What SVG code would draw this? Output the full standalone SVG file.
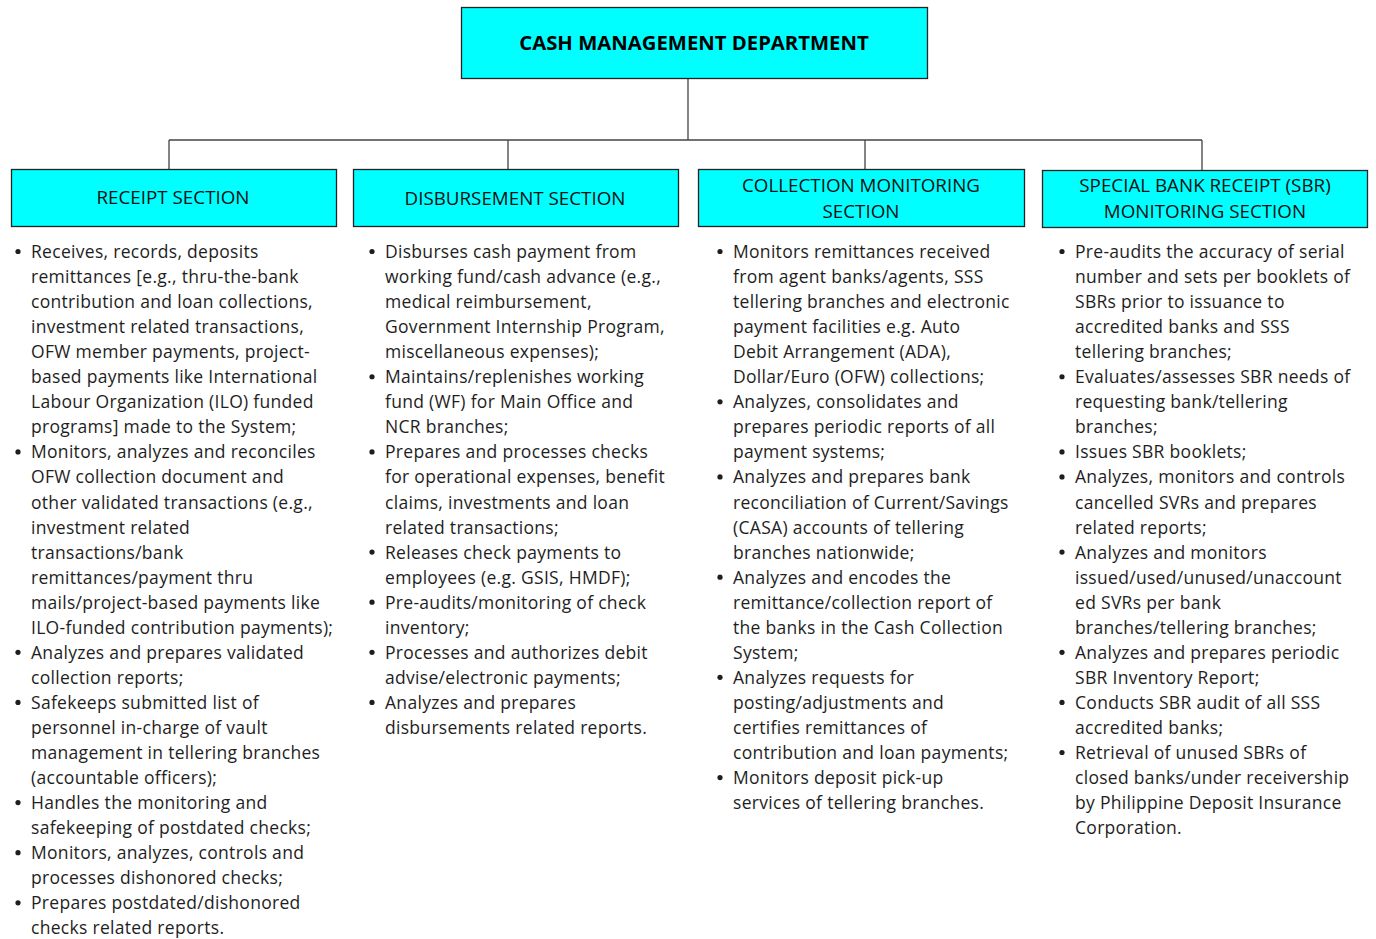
<svg xmlns="http://www.w3.org/2000/svg" width="1376" height="939" viewBox="0 0 1376 939">
<style>
.box{fill:#00FFFF;stroke:#222;stroke-width:1.3}
.ln{stroke:#444;stroke-width:1.3;fill:none}
.t{font-family:"Open Sans","Noto Sans",sans-serif;font-size:17.5px;letter-spacing:0.3px;fill:#1e1e1e}
.b{fill:#1e1e1e}
.h{font-family:"Open Sans","Noto Sans",sans-serif;font-size:18.8px;fill:#111;text-anchor:middle}
.title{font-family:"Open Sans","Noto Sans",sans-serif;font-size:20.3px;font-weight:bold;fill:#000;text-anchor:middle}
</style>
<rect width="1376" height="939" fill="#fff"/>
<g id="connectors">
<path class="ln" d="M688 78V140M169 140H1202M169 140V169M508 140V169M865 140V169M1202 140V170"/>
</g>
<g id="cmd">
<rect class="box" x="461.5" y="7.5" width="466" height="71"/>
<text class="title" x="694" y="50">CASH MANAGEMENT DEPARTMENT</text>
</g>
<g id="receipt">
<rect class="box" x="11.5" y="169.5" width="325" height="57"/>
<text class="h" x="173" y="204">RECEIPT SECTION</text>
</g>
<g id="disbursement">
<rect class="box" x="353.5" y="169.5" width="325" height="57"/>
<text class="h" x="515" y="205">DISBURSEMENT SECTION</text>
</g>
<g id="collection">
<rect class="box" x="698.5" y="169.5" width="326" height="57"/>
<text class="h" x="861" y="192">COLLECTION MONITORING</text>
<text class="h" x="861" y="218">SECTION</text>
</g>
<g id="sbr">
<rect class="box" x="1042.5" y="170.5" width="325" height="57"/>
<text class="h" x="1205" y="192">SPECIAL BANK RECEIPT (SBR)</text>
<text class="h" x="1205" y="218">MONITORING SECTION</text>
</g>
<g id="receipt-duties">
<g class="b"><circle cx="18" cy="251.5" r="2.6"/><circle cx="18" cy="451.9" r="2.6"/><circle cx="18" cy="652.3" r="2.6"/><circle cx="18" cy="702.4" r="2.6"/><circle cx="18" cy="802.6" r="2.6"/><circle cx="18" cy="852.7" r="2.6"/><circle cx="18" cy="902.8" r="2.6"/></g>
<text class="t">
<tspan x="31" y="258">Receives, records, deposits</tspan>
<tspan x="31" y="283.05">remittances [e.g., thru-the-bank</tspan>
<tspan x="31" y="308.1">contribution and loan collections,</tspan>
<tspan x="31" y="333.15">investment related transactions,</tspan>
<tspan x="31" y="358.2">OFW member payments, project-</tspan>
<tspan x="31" y="383.25">based payments like International</tspan>
<tspan x="31" y="408.3">Labour Organization (ILO) funded</tspan>
<tspan x="31" y="433.35">programs] made to the System;</tspan>
<tspan x="31" y="458.4">Monitors, analyzes and reconciles</tspan>
<tspan x="31" y="483.45">OFW collection document and</tspan>
<tspan x="31" y="508.5">other validated transactions (e.g.,</tspan>
<tspan x="31" y="533.55">investment related</tspan>
<tspan x="31" y="558.6">transactions/bank</tspan>
<tspan x="31" y="583.65">remittances/payment thru</tspan>
<tspan x="31" y="608.7">mails/project-based payments like</tspan>
<tspan x="31" y="633.75">ILO-funded contribution payments);</tspan>
<tspan x="31" y="658.8">Analyzes and prepares validated</tspan>
<tspan x="31" y="683.85">collection reports;</tspan>
<tspan x="31" y="708.9">Safekeeps submitted list of</tspan>
<tspan x="31" y="733.95">personnel in-charge of vault</tspan>
<tspan x="31" y="759">management in tellering branches</tspan>
<tspan x="31" y="784.05">(accountable officers);</tspan>
<tspan x="31" y="809.1">Handles the monitoring and</tspan>
<tspan x="31" y="834.15">safekeeping of postdated checks;</tspan>
<tspan x="31" y="859.2">Monitors, analyzes, controls and</tspan>
<tspan x="31" y="884.25">processes dishonored checks;</tspan>
<tspan x="31" y="909.3">Prepares postdated/dishonored</tspan>
<tspan x="31" y="934.35">checks related reports.</tspan>
</text>
</g>
<g id="disbursement-duties">
<g class="b"><circle cx="372" cy="251.5" r="2.6"/><circle cx="372" cy="376.75" r="2.6"/><circle cx="372" cy="451.9" r="2.6"/><circle cx="372" cy="552.1" r="2.6"/><circle cx="372" cy="602.2" r="2.6"/><circle cx="372" cy="652.3" r="2.6"/><circle cx="372" cy="702.4" r="2.6"/></g>
<text class="t">
<tspan x="385" y="258">Disburses cash payment from</tspan>
<tspan x="385" y="283.05">working fund/cash advance (e.g.,</tspan>
<tspan x="385" y="308.1">medical reimbursement,</tspan>
<tspan x="385" y="333.15">Government Internship Program,</tspan>
<tspan x="385" y="358.2">miscellaneous expenses);</tspan>
<tspan x="385" y="383.25">Maintains/replenishes working</tspan>
<tspan x="385" y="408.3">fund (WF) for Main Office and</tspan>
<tspan x="385" y="433.35">NCR branches;</tspan>
<tspan x="385" y="458.4">Prepares and processes checks</tspan>
<tspan x="385" y="483.45">for operational expenses, benefit</tspan>
<tspan x="385" y="508.5">claims, investments and loan</tspan>
<tspan x="385" y="533.55">related transactions;</tspan>
<tspan x="385" y="558.6">Releases check payments to</tspan>
<tspan x="385" y="583.65">employees (e.g. GSIS, HMDF);</tspan>
<tspan x="385" y="608.7">Pre-audits/monitoring of check</tspan>
<tspan x="385" y="633.75">inventory;</tspan>
<tspan x="385" y="658.8">Processes and authorizes debit</tspan>
<tspan x="385" y="683.85">advise/electronic payments;</tspan>
<tspan x="385" y="708.9">Analyzes and prepares</tspan>
<tspan x="385" y="733.95">disbursements related reports.</tspan>
</text>
</g>
<g id="collection-duties">
<g class="b"><circle cx="720" cy="251.5" r="2.6"/><circle cx="720" cy="401.8" r="2.6"/><circle cx="720" cy="476.95" r="2.6"/><circle cx="720" cy="577.15" r="2.6"/><circle cx="720" cy="677.35" r="2.6"/><circle cx="720" cy="777.55" r="2.6"/></g>
<text class="t">
<tspan x="733" y="258">Monitors remittances received</tspan>
<tspan x="733" y="283.05">from agent banks/agents, SSS</tspan>
<tspan x="733" y="308.1">tellering branches and electronic</tspan>
<tspan x="733" y="333.15">payment facilities e.g. Auto</tspan>
<tspan x="733" y="358.2">Debit Arrangement (ADA),</tspan>
<tspan x="733" y="383.25">Dollar/Euro (OFW) collections;</tspan>
<tspan x="733" y="408.3">Analyzes, consolidates and</tspan>
<tspan x="733" y="433.35">prepares periodic reports of all</tspan>
<tspan x="733" y="458.4">payment systems;</tspan>
<tspan x="733" y="483.45">Analyzes and prepares bank</tspan>
<tspan x="733" y="508.5">reconciliation of Current/Savings</tspan>
<tspan x="733" y="533.55">(CASA) accounts of tellering</tspan>
<tspan x="733" y="558.6">branches nationwide;</tspan>
<tspan x="733" y="583.65">Analyzes and encodes the</tspan>
<tspan x="733" y="608.7">remittance/collection report of</tspan>
<tspan x="733" y="633.75">the banks in the Cash Collection</tspan>
<tspan x="733" y="658.8">System;</tspan>
<tspan x="733" y="683.85">Analyzes requests for</tspan>
<tspan x="733" y="708.9">posting/adjustments and</tspan>
<tspan x="733" y="733.95">certifies remittances of</tspan>
<tspan x="733" y="759">contribution and loan payments;</tspan>
<tspan x="733" y="784.05">Monitors deposit pick-up</tspan>
<tspan x="733" y="809.1">services of tellering branches.</tspan>
</text>
</g>
<g id="sbr-duties">
<g class="b"><circle cx="1062" cy="251.5" r="2.6"/><circle cx="1062" cy="376.75" r="2.6"/><circle cx="1062" cy="451.9" r="2.6"/><circle cx="1062" cy="476.95" r="2.6"/><circle cx="1062" cy="552.1" r="2.6"/><circle cx="1062" cy="652.3" r="2.6"/><circle cx="1062" cy="702.4" r="2.6"/><circle cx="1062" cy="752.5" r="2.6"/></g>
<text class="t">
<tspan x="1075" y="258">Pre-audits the accuracy of serial</tspan>
<tspan x="1075" y="283.05">number and sets per booklets of</tspan>
<tspan x="1075" y="308.1">SBRs prior to issuance to</tspan>
<tspan x="1075" y="333.15">accredited banks and SSS</tspan>
<tspan x="1075" y="358.2">tellering branches;</tspan>
<tspan x="1075" y="383.25">Evaluates/assesses SBR needs of</tspan>
<tspan x="1075" y="408.3">requesting bank/tellering</tspan>
<tspan x="1075" y="433.35">branches;</tspan>
<tspan x="1075" y="458.4">Issues SBR booklets;</tspan>
<tspan x="1075" y="483.45">Analyzes, monitors and controls</tspan>
<tspan x="1075" y="508.5">cancelled SVRs and prepares</tspan>
<tspan x="1075" y="533.55">related reports;</tspan>
<tspan x="1075" y="558.6">Analyzes and monitors</tspan>
<tspan x="1075" y="583.65">issued/used/unused/unaccount</tspan>
<tspan x="1075" y="608.7">ed SVRs per bank</tspan>
<tspan x="1075" y="633.75">branches/tellering branches;</tspan>
<tspan x="1075" y="658.8">Analyzes and prepares periodic</tspan>
<tspan x="1075" y="683.85">SBR Inventory Report;</tspan>
<tspan x="1075" y="708.9">Conducts SBR audit of all SSS</tspan>
<tspan x="1075" y="733.95">accredited banks;</tspan>
<tspan x="1075" y="759">Retrieval of unused SBRs of</tspan>
<tspan x="1075" y="784.05">closed banks/under receivership</tspan>
<tspan x="1075" y="809.1">by Philippine Deposit Insurance</tspan>
<tspan x="1075" y="834.15">Corporation.</tspan>
</text>
</g>
</svg>
